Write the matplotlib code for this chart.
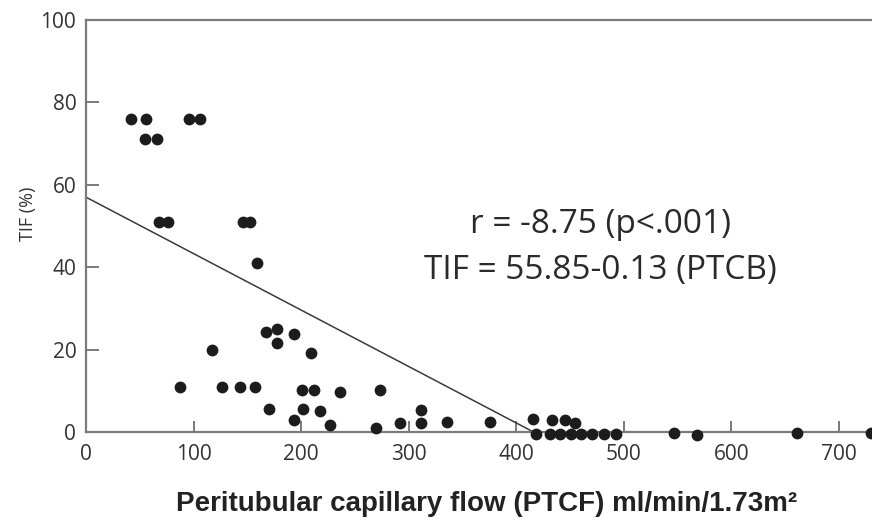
import matplotlib
matplotlib.use("Agg")
import matplotlib.pyplot as plt

# valores (PTCF vs TIF)
ptcf = [42, 56, 55, 66, 96, 106, 68, 76, 146, 152, 159,
        117, 87, 126, 143, 157, 167, 178, 178, 193, 209,
        201, 212, 236, 273, 170, 202, 218, 193, 227, 270,
        292, 311, 311, 336, 376, 416, 433, 445, 455,
        418, 431, 441, 451, 460, 470, 482, 493,
        547, 568, 661, 730]
tif = [76, 76, 71, 71, 76, 76, 51, 51, 51, 51, 41,
       20, 11, 11, 11, 11, 24.3, 25, 21.7, 23.8, 19.1,
       10.2, 10.2, 9.6, 10.2, 5.7, 5.7, 5.2, 2.9, 1.8, 0.9,
       2.3, 5.4, 2.3, 2.4, 2.5, 3.1, 2.9, 2.9, 2.2,
       -0.5, -0.5, -0.5, -0.5, -0.5, -0.5, -0.5, -0.5,
       -0.3, -0.7, -0.3, -0.3]

# recta de regresion dibujada
recta_x = [0, 416]
recta_y = [57, 0]

x_ticks = [0, 100, 200, 300, 400, 500, 600, 700]
y_ticks = [0, 20, 40, 60, 80, 100]

texto_r = 'r = -8.75 (p<.001)'
texto_ec = 'TIF = 55.85-0.13 (PTCB)'

gris = '#7a7a7a'
texto_gris = '#333333'

fig = plt.figure(figsize=(8.72, 5.32), dpi=100)
ax = fig.add_axes([86 / 872, 100 / 532, 1 - 86 / 872, 412 / 532])

ax.plot(recta_x, recta_y, color='#3a3a3a', lw=1.1)
ax.scatter(ptcf, tif, s=72, color='#1c1c1c', zorder=3, clip_on=False, linewidths=0)

ax.set_xlim(0, 730.7)
ax.set_ylim(0, 100)

for lado in ['left', 'bottom', 'top']:
    ax.spines[lado].set_color(gris)
    ax.spines[lado].set_linewidth(1.6)
ax.spines['right'].set_visible(False)

ax.set_xticks(x_ticks)
ax.set_yticks(y_ticks)
ax.tick_params(axis='both', direction='in', color=gris, width=1.4,
               labelcolor=texto_gris, labelsize=15)
ax.tick_params(axis='x', length=8, pad=9)
ax.tick_params(axis='y', length=9, pad=7)
for lbl in ax.get_xticklabels() + ax.get_yticklabels():
    lbl.set_fontfamily('Open Sans')

ax.set_ylabel('TIF (%)', family='Open Sans', fontsize=13, color=texto_gris)
ax.yaxis.set_label_coords(-0.062, 0.53)

ax.text(601 / 872, 1 - 225 / 532, texto_r, transform=fig.transFigure,
        ha='center', va='center', family='Open Sans', fontsize=24, color='#2a2a2a')
ax.text(600 / 872, 1 - 271 / 532, texto_ec, transform=fig.transFigure,
        ha='center', va='center', family='Open Sans', fontsize=24, color='#2a2a2a')

fig.text(487 / 872, 1 - 504 / 532, 'Peritubular capillary flow (PTCF) ml/min/1.73m\u00b2',
         ha='center', va='center', family='Liberation Sans', fontweight='bold',
         fontsize=20, color='#222222')

fig.savefig('out.png', dpi=100)
